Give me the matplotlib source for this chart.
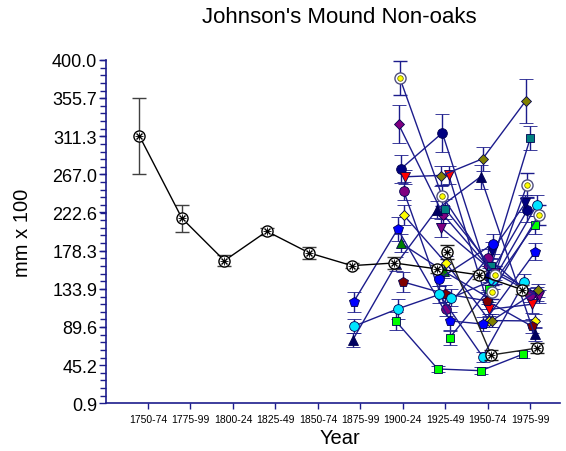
import numpy as np
import matplotlib
matplotlib.use('Agg')
import matplotlib.pyplot as plt
from matplotlib.ticker import AutoMinorLocator

plt.rcParams['font.family'] = ['Liberation Sans', 'DejaVu Sans']

nan = np.nan

#-------------------------------------------------------------------------------
#DATA

periods = ['1750-74', '1775-99', '1800-24', '1825-49', '1850-74',
           '1875-99', '1900-24', '1925-49', '1950-74', '1975-99']
yticks = [0.9, 45.2, 89.6, 133.9, 178.3, 222.6, 267.0, 311.3, 355.7, 400.0]

#site mean, all ten periods
mean_vals = [311.3, 215.8, 166.6, 200.7, 175.5, 160.8, 163.9, 157.0, 150.0, 133.0]
mean_err = [44.0, 16.0, 6.0, 4.0, 7.0, 3.0, 7.0, 5.0, 5.0, 5.0]

#individual trees, last five periods (1875-99 ... 1975-99)
navy_circle = [nan, 273.0, 315.0, 148.0, 225.0]
navy_circle_err = [0, 16, 22, 10, 14]
red_tri = [nan, 264.0, 266.0, 110.0, 116.0]
red_tri_err = [0, 8, 10, 8, 10]
olive_diamond = [nan, nan, 265.0, 285.0, 352.0]
olive_diamond_err = [0, 0, 12, 14, 26]
purple_diamond = [nan, 325.0, 220.0, 160.0, 128.0]
purple_diamond_err = [0, 22, 10, 10, 8]
purple_circle = [nan, 247.5, 110.6, 170.0, 127.0]
purple_circle_err = [0, 10, 8, 10, 8]
yellow_diamond = [nan, 219.6, 163.6, 97.0, 96.6]
yellow_diamond_err = [0, 12, 8, 8, 8]
blue_pentagon = [118.6, 203.3, 96.6, 93.0, 177.0]
blue_pentagon_err = [12, 14, 10, 8, 10]
green_tri = [nan, 187.0, 154.5, 124.0, nan]
green_tri_err = [0, 10, 8, 8, 0]
darkred_pentagon = [nan, 142.0, 128.0, 120.0, 90.7]
darkred_pentagon_err = [0, 12, 10, 10, 8]
cyan_circle = [90.7, 110.6, 127.3, 55.0, 141.5]
cyan_circle_err = [8, 12, 10, 6, 10]
cyan_circle2 = [nan, nan, 123.6, 144.0, 231.0]
cyan_circle2_err = [0, 0, 10, 10, 12]
lime_square = [nan, 96.6, 40.8, 38.8, 58.0]
lime_square_err = [0, 10, 4, 4, 4]
lime_square2 = [nan, nan, 76.9, 134.0, 208.0]
lime_square2_err = [0, 0, 8, 8, 10]
teal_square = [nan, nan, 226.6, 160.0, 309.0]
teal_square_err = [0, 0, 12, 10, 14]
navy_tri = [74.5, 163.0, 226.0, 264.0, 81.0]
navy_tri_err = [8, 8, 10, 14, 8]
purple_vtri = [nan, nan, 204.5, 152.0, 125.0]
purple_vtri_err = [0, 0, 10, 8, 8]
navy_vtri = [nan, nan, nan, 178.0, 233.0]
navy_vtri_err = [0, 0, 0, 10, 10]
ring_yellow = [nan, 378.7, 242.0, 150.0, 254.0]
ring_yellow_err = [0, 20, 12, 10, 14]
ring_yellow2 = [nan, nan, nan, 130.0, 219.6]
ring_yellow2_err = [0, 0, 0, 8, 12]
blue_circle = [nan, nan, 145.5, 186.0, nan]
blue_circle_err = [0, 0, 8, 12, 0]
olive_diamond2 = [nan, nan, nan, 97.0, 132.0]
olive_diamond2_err = [0, 0, 0, 8, 8]
black_ring2 = [nan, nan, 176.7, 57.0, 65.0]
black_ring2_err = [0, 0, 8, 6, 6]

#-------------------------------------------------------------------------------
#STYLE: (values, errors, marker, face colour, x offsets)

navy = '#1c1c8c'
trees = [
    (navy_circle, navy_circle_err, 'o', '#000080', [0, -0.05, -0.07, 0.02, -0.07]),
    (red_tri, red_tri_err, 'v', '#ff0000', [0, 0.05, 0.08, 0.04, 0.05]),
    (olive_diamond, olive_diamond_err, 'D', '#808000', [0, 0, -0.11, -0.12, -0.11]),
    (purple_diamond, purple_diamond_err, 'D', '#800080', [0, -0.1, -0.05, 0.0, 0.15]),
    (purple_circle, purple_circle_err, 'o', '#800080', [0, 0.02, 0.01, 0.0, 0.0]),
    (yellow_diamond, yellow_diamond_err, 'D', '#ffff00', [0, 0.02, 0.02, 0.04, 0.1]),
    (blue_pentagon, blue_pentagon_err, 'p', '#0000ff', [-0.16, -0.12, 0.12, -0.12, 0.12]),
    (green_tri, green_tri_err, '^', '#008000', [0, -0.05, -0.04, 0.0, 0]),
    (darkred_pentagon, darkred_pentagon_err, 'p', '#800000', [0, 0.0, 0.0, -0.03, 0.03]),
    (cyan_circle, cyan_circle_err, 'o', '#00e5ff', [-0.14, -0.12, -0.14, -0.12, -0.14]),
    (cyan_circle2, cyan_circle2_err, 'o', '#00e5ff', [0, 0, 0.14, 0.13, 0.15]),
    (lime_square, lime_square_err, 's', '#00ff00', [0, -0.17, -0.18, -0.16, -0.17]),
    (lime_square2, lime_square2_err, 's', '#00ff00', [0, 0, 0.1, 0.04, 0.1]),
    (teal_square, teal_square_err, 's', '#008080', [0, 0, 0.0, 0.08, 0.0]),
    (navy_tri, navy_tri_err, '^', '#000060', [-0.18, -0.15, -0.2, -0.17, 0.1]),
    (purple_vtri, purple_vtri_err, 'v', '#800080', [0, 0, -0.09, 0.17, 0.2]),
    (navy_vtri, navy_vtri_err, 'v', '#000080', [0, 0, 0, 0.1, -0.12]),
    (blue_circle, blue_circle_err, 'o', '#0000ff', [0, 0, -0.14, 0.12, 0]),
    (olive_diamond2, olive_diamond2_err, 'D', '#808000', [0, 0, 0, 0.1, 0.18]),
]
rings = [
    (ring_yellow, ring_yellow_err, [0, -0.07, -0.08, 0.16, -0.08]),
    (ring_yellow2, ring_yellow2_err, [0, 0, 0, 0.1, 0.2]),
]
msize = {'o': 7, 'v': 7, '^': 7, 'p': 7.5, 's': 6, 'D': 5.5}

#-------------------------------------------------------------------------------
#PLOT

fig = plt.figure(figsize=(5.66, 4.52), dpi=100)
ax = fig.add_axes([0.1864, 0.1055, 0.803, 0.7602])

xlast = np.arange(6, 11)

for vals, err, mk, fc, off in trees:
    v = np.array(vals, dtype=float)
    x = xlast + np.array(off)
    ok = ~np.isnan(v)
    ax.errorbar(x[ok], v[ok], yerr=np.array(err, dtype=float)[ok], color=navy, lw=1,
                elinewidth=1, capsize=5, capthick=1, marker=mk, ms=msize[mk], mfc=fc,
                mec='#000050', mew=0.6, zorder=3)

for vals, err, off in rings:
    v = np.array(vals, dtype=float)
    x = xlast + np.array(off)
    ok = ~np.isnan(v)
    ax.errorbar(x[ok], v[ok], yerr=np.array(err, dtype=float)[ok], color=navy, lw=1,
                elinewidth=1, capsize=5, capthick=1, marker='o', ms=8, mfc='white',
                mec='#505080', mew=1.0, zorder=3)
    ax.plot(x[ok], v[ok], 'o', ms=4, mfc='#ffff00', mec='#606000', mew=0.5, zorder=4)

#second black tree
v = np.array(black_ring2, dtype=float)
x = xlast + np.array([0, 0, 0.05, 0.08, 0.15])
ok = ~np.isnan(v)
ax.errorbar(x[ok], v[ok], yerr=np.array(black_ring2_err, dtype=float)[ok], color='#202020',
            lw=1, elinewidth=1, capsize=5, capthick=1, marker='o', ms=8, mfc='white',
            mec='black', mew=1.0, zorder=5)
ax.plot(x[ok], v[ok], 'x', ms=5, color='black', mew=1, zorder=6)
ax.plot(x[ok], v[ok], '+', ms=6, color='black', mew=0.6, zorder=6)

#site mean
xm = np.arange(1, 11) - 0.2
ax.errorbar(xm, mean_vals, yerr=mean_err, color='black', lw=1, elinewidth=1,
            ecolor='#404040', capsize=5, capthick=1, marker='o', ms=8, mfc='white',
            mec='black', mew=1.0, zorder=5)
ax.plot(xm, mean_vals, 'x', ms=5, color='black', mew=1, zorder=6)
ax.plot(xm, mean_vals, '+', ms=6, color='black', mew=0.6, zorder=6)

ax.set_xlim(0, 10.7)
ax.set_ylim(yticks[0], yticks[-1])
ax.set_xticks(np.arange(1, 11))
ax.set_xticklabels(periods, fontsize=7.5)
ax.set_yticks(yticks)
ax.set_yticklabels(['%.1f' % t for t in yticks], fontsize=13)
ax.yaxis.set_minor_locator(AutoMinorLocator(5))

for s in ['top', 'right']:
    ax.spines[s].set_visible(False)
for s in ['left', 'bottom']:
    ax.spines[s].set_color(navy)
    ax.spines[s].set_linewidth(1.2)
    ax.spines[s].set_zorder(10)
ax.tick_params(axis='y', which='major', length=5, width=1, color=navy, pad=1)
ax.tick_params(axis='y', which='minor', length=4, width=1, color=navy)
ax.tick_params(axis='x', which='major', length=4, width=1, color=navy, pad=4)

fig.text(0.5998, 0.962, "Johnson's Mound Non-oaks", ha='center', va='center', fontsize=16)
fig.text(0.6, 0.029, 'Year', ha='center', va='center', fontsize=14.5)
fig.text(0.0406, 0.4856, 'mm x 100', ha='center', va='center', rotation=90, fontsize=14.5)

plt.savefig('out.png', dpi=100)
